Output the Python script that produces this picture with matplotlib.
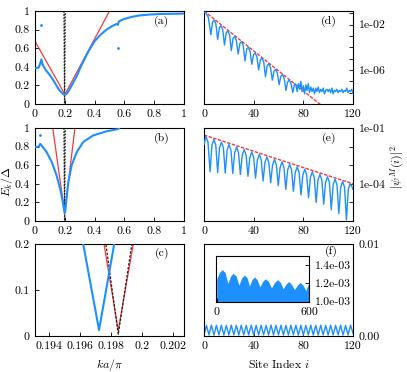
import numpy as np
import matplotlib.pyplot as plt
from matplotlib.ticker import NullLocator

plt.rcParams['font.family'] = 'cmr10'
plt.rcParams['mathtext.fontset'] = 'cm'
plt.rcParams['axes.formatter.use_mathtext'] = True
plt.rcParams['font.size'] = 8.5

BLUE = '#1e8fff'
RED = '#f03a3a'

# ---- left column: spectrum E_k/Delta vs ka/pi ----
a_x = [0, 0.022, 0.032, 0.043, 0.05, 0.056, 0.07, 0.1, 0.125, 0.145, 0.165, 0.18,
       0.19, 0.198, 0.205, 0.215, 0.224, 0.25, 0.28, 0.31, 0.347, 0.375, 0.40, 0.44,
       0.48, 0.52, 0.548, 0.556, 0.562, 0.57, 0.6, 0.65, 0.7, 0.77, 0.84, 0.92, 1.0]
a_y = [0.386, 0.39, 0.42, 0.48, 0.43, 0.41, 0.37, 0.31, 0.25, 0.195, 0.145, 0.12,
       0.105, 0.10, 0.103, 0.115, 0.135, 0.21, 0.30, 0.41, 0.53, 0.61, 0.675, 0.745,
       0.80, 0.84, 0.86, 0.85, 0.885, 0.895, 0.915, 0.937, 0.952, 0.962, 0.968, 0.97, 0.972]
a_dots_x = [0.043, 0.556]
a_dots_y = [0.85, 0.60]
a_red_x = [0, 0.1, 0.16, 0.18, 0.19, 0.2, 0.21, 0.22, 0.24, 0.3, 0.4, 0.5]
a_red_y = [0.675, 0.39, 0.22, 0.16, 0.13, 0.105, 0.13, 0.16, 0.22, 0.40, 0.70, 1.0]

b_x = [0, 0.025, 0.035, 0.05, 0.078, 0.112, 0.145, 0.168, 0.186, 0.195, 0.2, 0.204,
       0.212, 0.224, 0.246, 0.28, 0.324, 0.39, 0.48, 0.56, 0.565]
b_y = [0.796, 0.80, 0.83, 0.80, 0.74, 0.636, 0.49, 0.35, 0.21, 0.12, 0.085, 0.12,
       0.25, 0.42, 0.60, 0.74, 0.85, 0.92, 0.964, 0.99, 1.0]
b_dots_x = [0.035]
b_dots_y = [0.93]
b_red_x = [0.119, 0.19, 0.2, 0.207, 0.268]
b_red_y = [1.0, 0.19, 0.1, 0.19, 1.0]

blk_x = [0.1944, 0.19845, 0.2029]
blk_y = [1.0, 0.0036, 1.0]

c_x = [0.19619, 0.19721, 0.19819]
c_y = [0.2, 0.013, 0.2]
c_red_x = [0.19753, 0.19845, 0.19942]
c_red_y = [0.2, 0.012, 0.2]

# ---- right column: |psi^M(i)|^2 vs site index ----
d_site = [0, 1.2, 3.5, 5.5, 6.9, 8.25, 9.6, 11, 12.4, 13.75, 15.1, 16.5, 17.9, 19.25,
          20.6, 22, 23.4, 24.75, 26.1, 27.5, 28.9, 30.25, 31.6, 33, 34.4, 35.75, 37.1,
          38.5, 39.9, 41.25, 42.6, 44, 45.4, 46.75, 48.1, 49.5, 50.9, 52.25, 53.6, 55,
          56.4, 57.75, 59.1, 60.5, 61.9, 63.25, 64.6, 66, 67.4, 68.75, 70.1, 71.5, 73,
          74, 75, 76, 77, 78, 79, 80, 81, 82, 83, 84, 85, 86, 87, 88, 89, 90, 91, 92,
          93, 94, 95, 96, 97, 98, 99, 100, 101, 102, 103, 104, 105, 106, 107, 108, 109,
          110, 111, 112, 113, 114, 115, 116, 117, 118, 119, 120]
d_log = [-0.95, -0.9, -1.35, -2.9, -1.75, -1.6, -1.95, -3.3, -2.25, -2.1, -2.45, -3.8,
         -2.7, -2.55, -2.9, -4.3, -3.2, -3.05, -3.4, -4.6, -3.65, -3.5, -3.85, -5.2,
         -4.15, -4.0, -4.35, -5.5, -4.65, -4.5, -4.85, -6.0, -5.1, -4.95, -5.3, -6.6,
         -5.6, -5.45, -5.8, -6.9, -6.1, -5.95, -6.3, -7.3, -6.55, -6.4, -6.75, -7.8,
         -7.05, -6.9, -7.2, -8.0, -7.2,
         -7.3, -7.9, -7.2, -7.7, -7.0, -7.9, -7.4, -8.1, -7.3, -7.8, -7.2, -8.0, -7.5,
         -7.9, -7.6, -8.1, -7.6, -7.9, -7.5, -8.0, -7.7, -7.9, -7.6, -8.1, -7.8, -7.7,
         -7.9, -7.7, -8.0, -7.6, -8.1, -7.8, -7.9, -7.7, -8.0, -7.8, -7.9, -7.7, -8.0,
         -7.8, -7.9, -7.6, -8.0, -7.8, -7.9, -7.7, -8.05]
d_red_site = [0, 120]
d_red_val = [1.6e-1, 4.4e-12]

e_site = [0, 1.5, 3.2, 4.9, 6.45, 7.95, 9.5, 11.0, 12.5, 14.05, 15.6, 17.1, 18.6, 20.15,
          21.7, 23.2, 24.7, 26.25, 27.8, 29.3, 30.8, 32.35, 33.9, 35.4, 36.9, 38.45,
          40.0, 41.5, 43.0, 44.55, 46.1, 47.6, 49.1, 50.65, 52.2, 53.7, 55.2, 56.75,
          58.3, 59.8, 61.3, 62.85, 64.4, 65.9, 67.4, 68.95, 70.5, 72.0, 73.5, 75.05,
          76.6, 78.1, 79.6, 81.15, 82.7, 84.2, 85.7, 87.25, 88.8, 90.3, 91.8, 93.35,
          94.9, 96.4, 97.9, 99.45, 101.0, 102.5, 104.0, 105.55, 107.1, 108.6, 110.1,
          111.65, 113.2, 114.7, 116.2, 117.7, 119.2, 120]
e_log = [-1.9, -1.45, -1.75, -3.35, -1.9, -1.62, -1.92, -3.40, -2.06, -1.76, -2.06,
         -3.42, -2.19, -1.89, -2.19, -3.45, -2.32, -2.02, -2.32, -3.5, -2.46, -2.16,
         -2.46, -3.6, -2.59, -2.29, -2.59, -3.7, -2.72, -2.42, -2.72, -3.85, -2.85,
         -2.55, -2.85, -3.95, -2.99, -2.69, -2.99, -4.1, -3.12, -2.82, -3.12, -4.3,
         -3.25, -2.95, -3.25, -4.4, -3.39, -3.09, -3.39, -4.6, -3.52, -3.22, -3.52,
         -4.75, -3.65, -3.35, -3.65, -5.0, -3.79, -3.49, -3.79, -5.1, -3.92, -3.62,
         -3.92, -5.4, -4.05, -3.75, -4.05, -5.6, -4.18, -3.88, -4.18, -5.95, -4.3,
         -4.0, -4.15, -4.3]
e_red_site = [0, 120]
e_red_val = [4.2e-2, 1.0e-4]

# panel (f): values every 2 sites, in units of 1e-3
f_val = [0.15, 1.15, 0.12, 1.18, 0.10, 1.16, 0.12, 1.17, 0.10, 1.15, 0.11, 1.18, 0.12,
         1.16, 0.10, 1.17, 0.11, 1.15, 0.12, 1.18, 0.10, 1.16, 0.11, 1.17, 0.12, 1.15,
         0.10, 1.18, 0.11, 1.16, 0.12, 1.17, 0.10, 1.15, 0.11, 1.18, 0.12, 1.16, 0.10,
         1.17, 0.11, 1.15, 0.12, 1.18, 0.10, 1.16, 0.11, 1.17, 0.12, 1.15, 0.10, 1.18,
         0.11, 1.16, 0.12, 1.17, 0.10, 1.15, 0.11, 1.18, 0.30]
ins_x = [0, 18, 36, 54, 72, 90, 107, 126, 144, 162, 180, 197, 213, 229, 245, 263, 280,
         298, 316, 336, 356, 376, 396, 414, 432, 450, 467, 486, 505, 524, 542, 561, 580,
         590, 600]
ins_y = [1.25, 1.32, 1.35, 1.32, 1.20, 1.28, 1.31, 1.28, 1.18, 1.26, 1.29, 1.26, 1.17,
         1.24, 1.27, 1.24, 1.16, 1.22, 1.25, 1.22, 1.15, 1.21, 1.24, 1.21, 1.14, 1.19,
         1.22, 1.19, 1.13, 1.18, 1.21, 1.18, 1.12, 1.17, 1.20]

W, H = 407, 372
fig = plt.figure(figsize=(W / 100, H / 100), dpi=100)


def box(x0, y0, x1, y1):
    return [x0 / W, 1 - y1 / H, (x1 - x0) / W, (y1 - y0) / H]


def style(ax, right=False):
    ax.tick_params(direction='in', length=3, width=0.6, top=False,
                   left=not right, right=right, labelleft=not right,
                   labelright=right, pad=4)
    for s in ax.spines.values():
        s.set_linewidth(0.8)


axa = fig.add_axes(box(35, 11, 184, 104))
axb = fig.add_axes(box(35, 128, 184, 221))
axc = fig.add_axes(box(35, 244, 184, 336))
axd = fig.add_axes(box(204, 11, 353, 104))
axe = fig.add_axes(box(204, 128, 353, 221))
axf = fig.add_axes(box(204, 244, 353, 336))
axi = fig.add_axes(box(216, 256, 309, 302))

ticks01 = [0, 0.2, 0.4, 0.6, 0.8, 1]
labs01 = ['0', '0.2', '0.4', '0.6', '0.8', '1']

for ax in (axa, axb):
    style(ax)
    ax.plot(blk_x, blk_y, color='#222222', lw=0.9, ls=(0, (1.5, 1)), zorder=1)
    ax.set_xlim(0, 1)
    ax.set_ylim(0, 1)
    ax.set_xticks(ticks01)
    ax.set_xticklabels(labs01)
    ax.set_yticks(ticks01)
    ax.set_yticklabels(labs01)

axa.plot(a_red_x, a_red_y, color=RED, lw=0.9, zorder=2)
axa.plot(a_x, a_y, color=BLUE, lw=1.5, zorder=3)
axa.plot(a_dots_x, a_dots_y, 'o', color=BLUE, ms=1.0, zorder=3)
axa.text(0.85, 0.89, '(a)', transform=axa.transAxes, ha='center', va='center')

axb.plot(b_red_x, b_red_y, color=RED, lw=0.9, zorder=2)
axb.plot(b_x, b_y, color=BLUE, lw=1.5, zorder=3)
axb.plot(b_dots_x, b_dots_y, 'o', color=BLUE, ms=1.0, zorder=3)
axb.text(0.85, 0.89, '(b)', transform=axb.transAxes, ha='center', va='center')

style(axc)
axc.plot(c_red_x, c_red_y, color=RED, lw=0.9, zorder=2)
axc.plot(blk_x, blk_y, color='#222222', lw=0.9, ls=(0, (2, 1.2)), zorder=3)
axc.plot(c_x, c_y, color=BLUE, lw=1.5, zorder=3)
axc.set_xlim(0.19308, 0.20269)
axc.set_ylim(0, 0.2)
axc.set_xticks([0.194, 0.196, 0.198, 0.2, 0.202])
axc.set_xticklabels(['0.194', '0.196', '0.198', '0.2', '0.202'])
axc.set_yticks([0, 0.1, 0.2])
axc.set_yticklabels(['0', '0.1', '0.2'])
axc.text(0.85, 0.9, '(c)', transform=axc.transAxes, ha='center', va='center')
axc.set_xlabel(r'$ka/\pi$', labelpad=4)

# right column
dec_d = [1e-9, 1e-8, 1e-7, 1e-6, 1e-5, 1e-4, 1e-3, 1e-2, 1e-1]
style(axd, right=True)
axd.set_yscale('log')
axd.plot(d_red_site, d_red_val, color=RED, lw=1.0, ls=(0, (2.5, 1)), zorder=2)
axd.plot(d_site, np.power(10.0, d_log), color=BLUE, lw=1.0, zorder=3)
axd.set_xlim(0, 120)
axd.set_ylim(1.3e-9, 0.16)
axd.set_yticks(dec_d)
axd.set_yticklabels(['1e-02' if v == 1e-2 else '1e-06' if v == 1e-6 else '' for v in dec_d])
axd.yaxis.set_minor_locator(NullLocator())
axd.text(0.84, 0.89, '(d)', transform=axd.transAxes, ha='center', va='center')

dec_e = [1e-6, 1e-5, 1e-4, 1e-3, 1e-2, 1e-1]
style(axe, right=True)
axe.set_yscale('log')
axe.plot(e_red_site, e_red_val, color=RED, lw=1.0, ls=(0, (2.5, 1)), zorder=2)
axe.plot(e_site, np.power(10.0, e_log), color=BLUE, lw=1.0, zorder=3)
axe.set_xlim(0, 120)
axe.set_ylim(1e-6, 1e-1)
axe.set_yticks(dec_e)
axe.set_yticklabels(['1e-01' if v == 1e-1 else '1e-04' if v == 1e-4 else '' for v in dec_e])
axe.yaxis.set_minor_locator(NullLocator())
axe.text(0.84, 0.89, '(e)', transform=axe.transAxes, ha='center', va='center')

style(axf, right=True)
f_site = np.arange(len(f_val)) * 2
axf.plot(f_site, np.array(f_val) * 1e-3, color=BLUE, lw=1.0)
axf.set_xlim(0, 120)
axf.set_ylim(0, 0.01)
axf.set_yticks([0, 0.01])
axf.set_yticklabels(['0.00', '0.01'])
axf.set_xlabel(r'Site Index $i$', labelpad=4)
axf.text(0.857, 0.92, '(f)', transform=axf.transAxes, ha='center', va='center')

for ax in (axd, axe, axf):
    ax.set_xticks([0, 40, 80, 120])
    ax.set_xticklabels(['0', '40', '80', '120'])

style(axi, right=True)
axi.fill_between(ins_x, 0.9e-3, np.array(ins_y) * 1e-3, color=BLUE, lw=0)
axi.set_xlim(-5, 600)
axi.set_ylim(0.995e-3, 1.5e-3)
axi.set_xticks([0, 600])
axi.set_xticklabels(['0', '600'])
axi.set_yticks([1.0e-3, 1.2e-3, 1.4e-3])
axi.set_yticklabels(['1.0e-03', '1.2e-03', '1.4e-03'])

fig.text(7 / W, 1 - 182 / H, r'$E_k/\Delta$', rotation=90, ha='center', va='center')
fig.text(397 / W, 1 - 167 / H, r'$|\psi^M(i)|^2$', rotation=90, ha='center', va='center')

fig.savefig('out.png', dpi=100)
